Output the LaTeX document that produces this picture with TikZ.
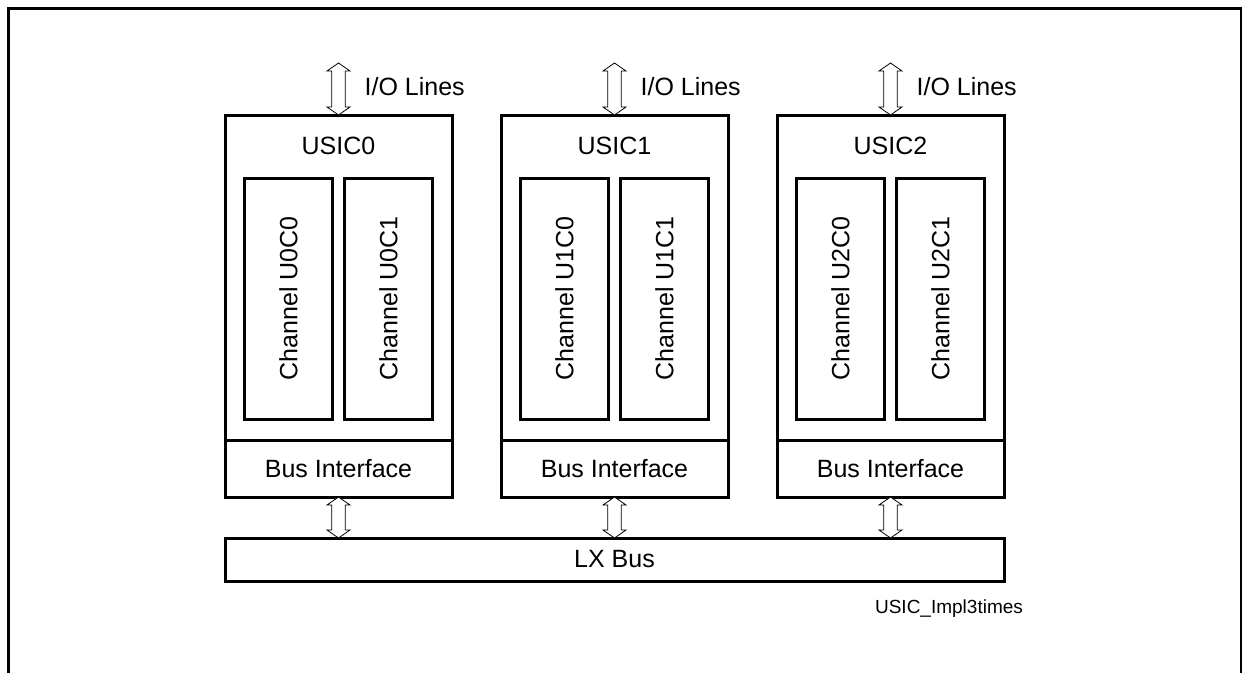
\documentclass[tikz,border=0pt]{standalone}
\usepackage{fontspec}
\setmainfont{Liberation Sans}
\usetikzlibrary{calc}
\begin{document}
\begin{tikzpicture}[x=1pt,y=1pt,
  txt/.style={inner sep=0pt, font=\fontsize{25}{30}\selectfont},
  small/.style={inner sep=0pt, font=\fontsize{19}{23}\selectfont},
  usic/.style={draw, line width=3pt, inner sep=0pt, outer sep=0pt, minimum width=227pt, minimum height=382pt},
  bif/.style={draw, line width=3pt, inner sep=0pt, outer sep=0pt, minimum width=227pt, minimum height=57pt, font=\fontsize{25}{30}\selectfont},
  chan/.style={draw, line width=3pt, inner sep=0pt, outer sep=0pt, rotate=90, minimum width=241pt, minimum height=88pt, font=\fontsize{25}{30}\selectfont},
  busbox/.style={draw, line width=3pt, inner sep=0pt, outer sep=0pt, minimum width=779pt, minimum height=43pt, font=\fontsize{25}{30}\selectfont},
  hollow/.style={draw, fill=white, line width=0.8pt, line join=miter,
    to path={let \p1=(\tikztostart), \p2=(\tikztotarget) in
      (\x1,\y1) -- (\x1+11.5pt,\y1-8pt) -- (\x1+6.7pt,\y1-8pt) -- (\x1+6.7pt,\y2+8pt) -- (\x1+11.5pt,\y2+8pt) -- (\x1,\y2)
      -- (\x1-11.5pt,\y2+8pt) -- (\x1-6.7pt,\y2+8pt) -- (\x1-6.7pt,\y1-8pt) -- (\x1-11.5pt,\y1-8pt) -- cycle}}
]
\useasboundingbox (0,0) rectangle (1242,-672);
\draw[line width=3pt] (8,-690) -- (8,-8) -- (1241,-8) -- (1241,-690);

\node[busbox] (lx) at (614.5,-559.5) {LX Bus};

\foreach \i/\cx in {0/338.5,1/614.5,2/890.5} {
  \node[usic] (u\i) at (\cx,-306) {};
  \node[txt] (t\i) at (\cx,-146) {USIC\i};
  \node[bif] (b\i) at (\cx,-468.5) {Bus Interface};
  \node[chan] (c\i0) at (\cx-50,-298.5) {Channel U\i C0};
  \node[chan] (c\i1) at (\cx+50,-298.5) {Channel U\i C1};
  \coordinate (io\i) at (\cx,-63);
  \node[txt, anchor=west] (l\i) at (\cx+26,-87) {I/O Lines};
  \coordinate (lx\i) at (b\i.south |- lx.north);
  \path[hollow] (io\i) to (u\i.north);
  \path[hollow] (b\i.south) to (lx\i);
}

\node[small] (id) at (949,-609) {USIC\_Impl3times};
\end{tikzpicture}
\end{document}
